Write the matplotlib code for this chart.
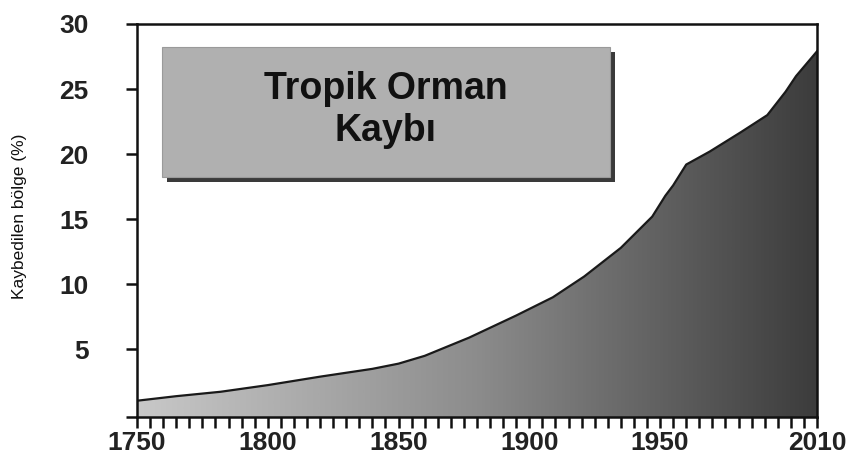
import numpy as np
import matplotlib
matplotlib.use("Agg")
import matplotlib.pyplot as plt
import matplotlib.patches as mpatches
from matplotlib.colors import LinearSegmentedColormap
from matplotlib.ticker import MultipleLocator

# Data
years = [1750, 1765, 1782, 1800, 1820, 1840, 1850, 1860, 1877, 1895, 1909,
         1921, 1935, 1947, 1952, 1955, 1960, 1969, 1981, 1991, 1998, 2002, 2010]
loss = [1.05, 1.4, 1.74, 2.25, 2.9, 3.5, 3.9, 4.5, 5.9, 7.6, 9.0,
        10.6, 12.8, 15.2, 16.8, 17.6, 19.2, 20.2, 21.7, 23.0, 24.8, 26.0, 27.9]
x_major = [1750, 1800, 1850, 1900, 1950, 2010]
y_ticks = [5, 10, 15, 20, 25, 30]
title_text = "Tropik Orman\nKaybı"
ylabel_text = "Kaybedilen bölge (%)"

plt.rcParams['font.family'] = ['Liberation Sans', 'DejaVu Sans']

fig = plt.figure(figsize=(8.53, 4.59), dpi=100)
ax = fig.add_axes([137/853, 1-417/459, (817-137)/853, (417-24)/459])

x0, x1 = 1750, 2010
y0, y1 = -0.2, 30
ax.set_xlim(x0, x1)
ax.set_ylim(y0, y1)

# gradient fill clipped to area under curve
poly = ax.fill_between(years, y0, loss, facecolor='none', edgecolor='none')
cmap = LinearSegmentedColormap.from_list('g', ['#c8c8c8', '#8c8c8c', '#3c3c3c'])
grad = np.linspace(0, 1, 512).reshape(1, -1)
im = ax.imshow(grad, cmap=cmap, aspect='auto', extent=[x0, x1, y0, y1],
               origin='lower', zorder=1, interpolation='bilinear')
path = poly.get_paths()[0]
im.set_clip_path(path, transform=ax.transData)
ax.plot(years, loss, color='#1a1a1a', lw=1.6, zorder=3)

# spines
for s in ax.spines.values():
    s.set_linewidth(1.8)
    s.set_color('#111111')
    s.set_zorder(4)

ax.set_xticks(x_major)
ax.set_xticklabels([str(v) for v in x_major])
ax.xaxis.set_minor_locator(MultipleLocator(5))
ax.set_yticks([y0] + y_ticks)
ax.set_yticklabels([''] + [str(v) for v in y_ticks])

ax.tick_params(axis='x', which='both', direction='out', length=8, width=1.8,
               color='#111111', pad=2, labelsize=19)
ax.tick_params(axis='y', which='both', direction='out', length=8, width=1.8,
               color='#111111', pad=27, labelsize=19)
for lab in ax.get_xticklabels() + ax.get_yticklabels():
    lab.set_fontweight('bold')
    lab.set_color('#222222')

fig.text(20/853, 1-216/459, ylabel_text, rotation=90, ha='center', va='center',
         fontsize=12.5, color='#111111')

# title box with shadow (figure coordinates in pixels)
W, H = 853, 459
bx, by, bw, bh = 162, 47, 448, 130
shadow = mpatches.Rectangle(((bx+5)/W, 1-(by+bh+5)/H), bw/W, bh/H,
                            transform=fig.transFigure, facecolor='#3a3a3a',
                            edgecolor='none', zorder=5)
box = mpatches.Rectangle((bx/W, 1-(by+bh)/H), bw/W, bh/H,
                         transform=fig.transFigure, facecolor='#b0b0b0',
                         edgecolor='#9a9a9a', lw=0.8, zorder=6)
fig.add_artist(shadow)
fig.add_artist(box)
fig.text((bx+bw/2)/W, 1-(by+bh/2-2)/H, title_text, ha='center', va='center',
         fontsize=27, fontweight='bold', color='#111111', linespacing=1.2,
         zorder=7)

fig.savefig('out.png', dpi=100)
